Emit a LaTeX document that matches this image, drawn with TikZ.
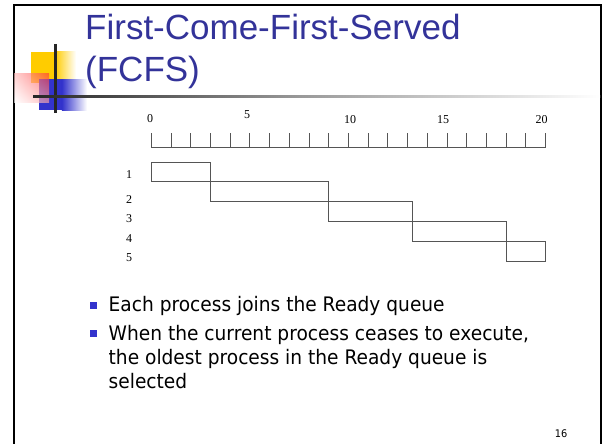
\documentclass[tikz,border=0pt]{standalone}
\usepackage{fontspec}
\setmainfont{Liberation Serif}
\newfontfamily\titlefont{Liberation Sans}
\newfontfamily\bodyfont[FakeStretch=0.93]{DejaVu Sans}
\usetikzlibrary{shadings}
\definecolor{titleblue}{HTML}{333399}
\definecolor{bulletblue}{HTML}{3333CC}
\definecolor{logoyellow}{HTML}{FFCC00}
\definecolor{logored}{HTML}{FF3333}
\definecolor{axisgray}{HTML}{555555}
\tikzset{
  titletext/.style={anchor=base west,inner sep=0pt,font=\titlefont\fontsize{35}{42}\selectfont,text=titleblue},
  bodytext/.style={anchor=base west,inner sep=0pt,font=\bodyfont\fontsize{20}{24}\selectfont,text=black},
  axislabel/.style={inner sep=0pt,font=\fontsize{12}{14}\selectfont},
  bulletbox/.style={fill=bulletblue},
  procbox/.style={draw=axisgray,line width=1pt},
}
\begin{document}
\begin{tikzpicture}[x=1pt,y=-1pt]
\useasboundingbox (0,0) rectangle (602,444);
% frame
\draw[line width=2pt,black] (14,450) -- (14,5) -- (600.5,5) -- (600.5,450);
% logo
\fill[logoyellow] (31,52) rectangle (55,83);
\shade[left color=logoyellow,right color=white] (54.9,52) rectangle (76,83);
\fill[bulletblue] (39,79) rectangle (62,110);
\shade[left color=bulletblue,right color=white] (61.9,79) rectangle (87,110);
\shade[fill opacity=0.65,upper right=logored,upper left=logored!35,lower right=logored!45,lower left=white] (14,73) rectangle (49,102);
\draw[line width=3pt,black!85] (55,44) -- (55,113);
% title underline
\shade[left color=black!85,right color=black!40] (33,95.7) rectangle (300,97.7);
\shade[left color=black!40,right color=white] (299.9,95.7) rectangle (600,97.7);
% title
\node[titletext] (t1) at (85,39.5) {First-Come-First-Served};
\node[titletext] (t2) at (85,81.5) {(FCFS)};
% axis
\draw[axisgray,line width=1pt] (151.3,147.7) -- (545.7,147.7);
\foreach \i in {0,...,20}{
  \draw[axisgray,line width=1pt] ({151.3+\i*19.72},133.3) -- ({151.3+\i*19.72},147.7);
}
\node[axislabel] (a0) at (150,119) {0};
\node[axislabel] (a5) at (247,115) {5};
\node[axislabel] (a10) at (350,119.5) {10};
\node[axislabel] (a15) at (443,119.5) {15};
\node[axislabel] (a20) at (541.7,119.5) {20};
% row labels
\node[axislabel] (r1) at (129,175) {1};
\node[axislabel] (r2) at (129,199.3) {2};
\node[axislabel] (r3) at (129,219) {3};
\node[axislabel] (r4) at (129,238.3) {4};
\node[axislabel] (r5) at (129,257.7) {5};
% processes
\draw[procbox] (151.3,162.3) rectangle (210.3,181.7);
\draw[procbox] (210.3,181.7) rectangle (328.7,201.7);
\draw[procbox] (328.7,201.7) rectangle (412.7,221.7);
\draw[procbox] (412.7,221.7) rectangle (506,241);
\draw[procbox] (506,241) rectangle (545.7,261);
% bullets
\fill[bulletbox] (90,302.3) rectangle (96.7,309);
\fill[bulletbox] (90,330) rectangle (96.7,336.7);
\node[bodytext] (b1) at (108.5,311) {Each process joins the Ready queue};
\node[bodytext] (b2) at (108.5,340) {When the current process ceases to execute,};
\node[bodytext] (b3) at (108.5,364.3) {the oldest process in the Ready queue is};
\node[bodytext] (b4) at (108.5,388.3) {selected};
% page number
\node[inner sep=0pt,font=\bodyfont\fontsize{10.5}{12}\selectfont] (pg) at (561,433.3) {16};
\end{tikzpicture}
\end{document}
